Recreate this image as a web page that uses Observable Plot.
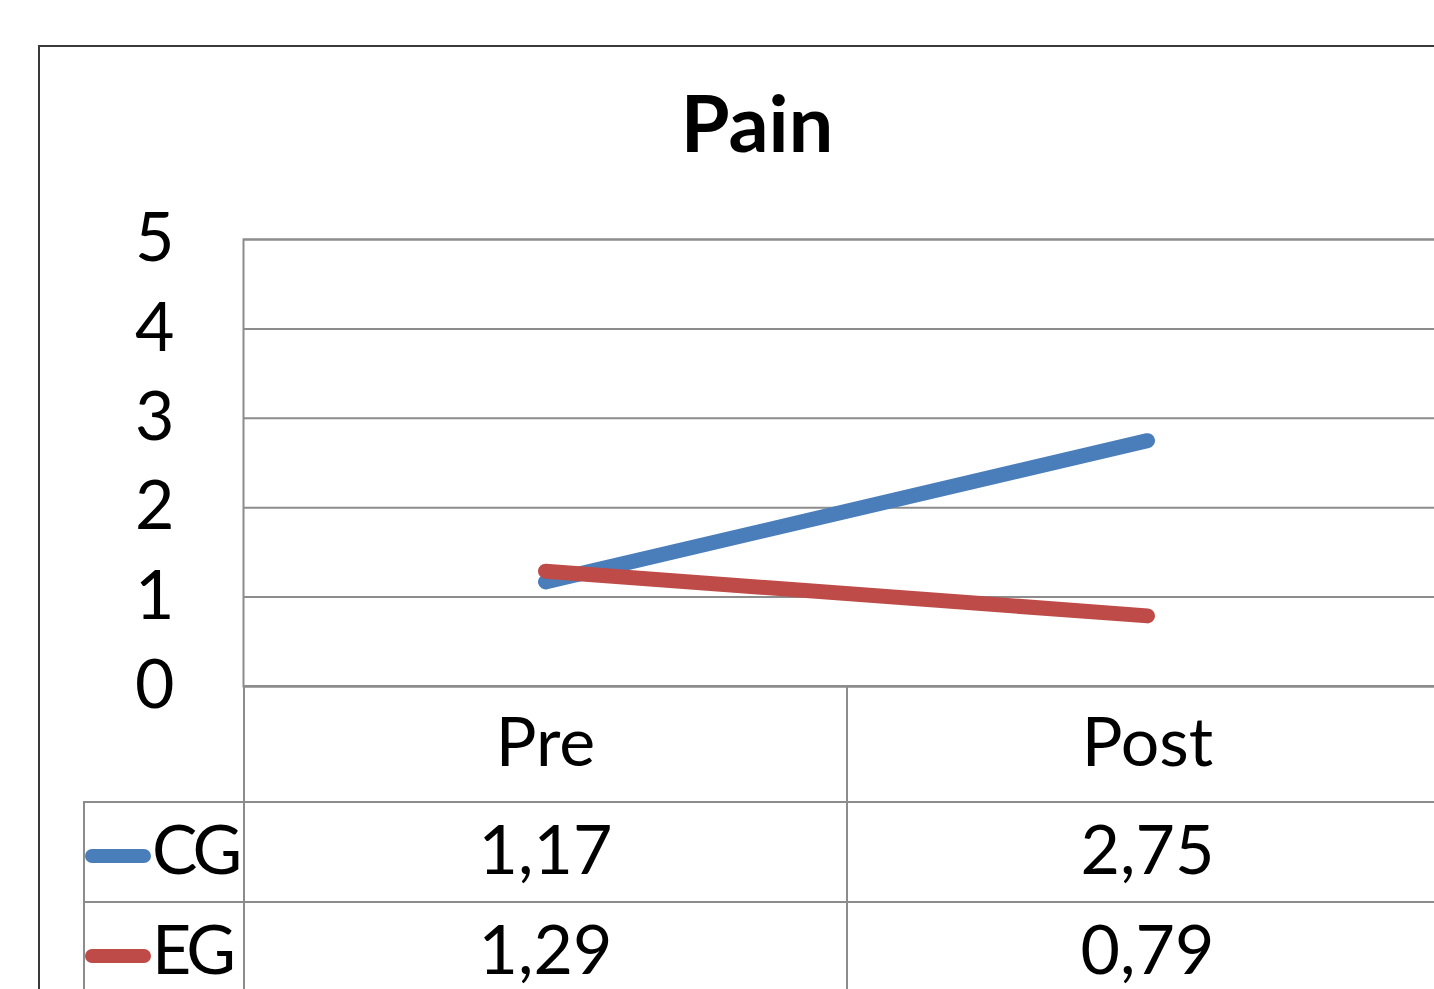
<!DOCTYPE html>
<html>
<head>
<meta charset="utf-8">
<script src="https://cdn.jsdelivr.net/npm/d3@7"></script>
<script src="https://cdn.jsdelivr.net/npm/@observablehq/plot@0.6"></script>
<style>
  html, body { margin: 0; padding: 0; background: #fff; overflow: hidden; width: 1434px; height: 989px; }
  body { position: relative; font-family: Lato, "Open Sans", sans-serif; color: #000; }
  #outer { position: absolute; left: 38px; top: 45px; width: 1500px; height: 1100px; border: 2px solid #3a3a3a; box-sizing: border-box; }
  #title { position: absolute; left: 0; width: 1514px; top: 72px; text-align: center; font-size: 79px; font-weight: bold; line-height: 100px; }
  #chart { position: absolute; left: 0; top: 0; width: 1500px; }
  #chart svg { max-width: none !important; }
  #table { position: absolute; left: 83px; top: 685px; width: 1364px; border-collapse: collapse; table-layout: fixed; font-size: 68px; }
  #table td { border: 2px solid #8c8c8c; text-align: center; vertical-align: middle; padding: 0 0 8px 0; line-height: 1; box-sizing: border-box; }
  #table td.blank { border-top: none; border-left: none; }
  #table td.leg { text-align: left; white-space: nowrap; letter-spacing: -4px; overflow: visible; }
  .sw { display: inline-block; width: 66px; height: 14px; border-radius: 7px; vertical-align: middle; margin-right: 1px; position: relative; top: -1px; }
</style>
</head>
<body>
<div id="outer"></div>
<div id="title">Pain</div>
<div id="chart"></div>
<table id="table"></table>
<script>
const categories = ["Pre", "Post"];
const series = ["CG", "EG"];
const cgValues = [1.17, 2.75];
const egValues = [1.29, 0.79];
const yTicks = [0, 1, 2, 3, 4, 5];
const colors = ["#4a7ebb", "#be4b48"];

const data = [];
categories.forEach((c, i) => {
  data.push({period: c, group: "CG", value: cgValues[i]});
});
categories.forEach((c, i) => {
  data.push({period: c, group: "EG", value: egValues[i]});
});

const W = 1500;
const plot = Plot.plot({
  width: W,
  height: 688,
  marginTop: 239,
  marginLeft: 243,
  marginRight: W - 1448,
  marginBottom: 2,
  style: {fontFamily: "Lato, 'Open Sans', sans-serif", fontSize: "68px", color: "#000", background: "transparent", overflow: "visible", maxWidth: "none"},
  x: {type: "point", domain: categories, padding: 0.5, axis: null},
  y: {domain: [0, 5], ticks: yTicks, tickSize: 0, tickPadding: 69, tickFormat: d => String(d), label: null},
  color: {domain: series, range: colors},
  marks: [
    Plot.ruleY(yTicks, {stroke: "#8c8c8c", strokeWidth: 2}),
    Plot.frame({stroke: "#8c8c8c", strokeWidth: 2}),
    Plot.line(data, {x: "period", y: "value", z: "group", stroke: "group", strokeWidth: 15, strokeLinecap: "round", strokeLinejoin: "round"})
  ]
});
document.getElementById("chart").appendChild(plot);

const fmt = v => v.toFixed(2).replace(".", ",");
const table = document.getElementById("table");
const colW = [160, 603, 601];
const cg = document.createElement("colgroup");
colW.forEach(w => { const c = document.createElement("col"); c.style.width = w + "px"; cg.appendChild(c); });
table.appendChild(cg);
const head = document.createElement("tr");
head.style.height = "116px";
const blank = document.createElement("td"); blank.className = "blank"; head.appendChild(blank);
categories.forEach(c => { const td = document.createElement("td"); td.textContent = c; head.appendChild(td); });
table.appendChild(head);
const seriesVals = [cgValues, egValues];
series.forEach((s, si) => {
  const tr = document.createElement("tr");
  tr.style.height = "100px";
  const leg = document.createElement("td"); leg.className = "leg";
  const sw = document.createElement("span"); sw.className = "sw"; sw.style.background = colors[si];
  leg.appendChild(sw); leg.appendChild(document.createTextNode(s));
  tr.appendChild(leg);
  seriesVals[si].forEach(v => { const td = document.createElement("td"); td.textContent = fmt(v); tr.appendChild(td); });
  table.appendChild(tr);
});
</script>
</body>
</html>
